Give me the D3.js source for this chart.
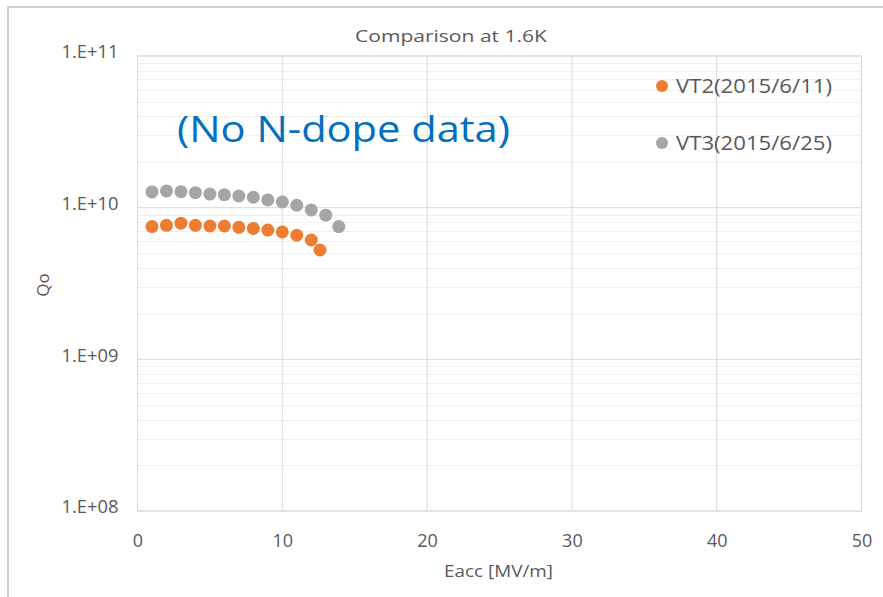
<!DOCTYPE html>
<html>
<head>
<meta charset="utf-8">
<script src="https://cdn.jsdelivr.net/npm/d3@7"></script>
<style>
  body { margin: 0; background: #fff; }
  text { font-family: "Open Sans", sans-serif; fill: #595959; }
</style>
</head>
<body>
<svg id="chart"></svg>
<script>
// Data
const eaccVT2 = [1, 2, 3, 4, 5, 6, 7, 8, 9, 10, 11, 12, 12.6];
const qoVT2 = [7.5e9, 7.65e9, 7.9e9, 7.65e9, 7.57e9, 7.57e9, 7.42e9, 7.3e9, 7.12e9, 6.92e9, 6.58e9, 6.12e9, 5.26e9];
const eaccVT3 = [1, 2, 3, 4, 5, 6, 7, 8, 9, 10, 11, 12, 13, 13.9];
const qoVT3 = [1.27e10, 1.29e10, 1.275e10, 1.256e10, 1.23e10, 1.218e10, 1.194e10, 1.171e10, 1.124e10, 1.09e10, 1.037e10, 9.66e9, 8.92e9, 7.5e9];
const seriesNames = ["VT2(2015/6/11)", "VT3(2015/6/25)"];
const seriesColors = ["#ED7D31", "#A5A5A5"];
const xTicks = [0, 10, 20, 30, 40, 50];
const yTicks = [1e8, 1e9, 1e10, 1e11];
const yTickLabels = ["1.E+08", "1.E+09", "1.E+10", "1.E+11"];

const width = 883, height = 597;
const margin = { top: 56, right: 21.5, bottom: 86, left: 137.5 };
const plotW = width - margin.left - margin.right;
const plotH = height - margin.top - margin.bottom;

const svg = d3.select("#chart").attr("width", width).attr("height", height);

// outer frame (top and left edges visible)
svg.append("path")
  .attr("d", `M8,${height} L8,7 L${width},7`)
  .attr("fill", "none")
  .attr("stroke", "#d0d0d0")
  .attr("stroke-width", 2);

const g = svg.append("g").attr("transform", `translate(${margin.left},${margin.top})`);

const x = d3.scaleLinear().domain([0, 50]).range([0, plotW]);
const y = d3.scaleLog().domain([1e8, 1e11]).range([plotH, 0]);

// minor log gridlines
const minor = [];
[1e8, 1e9, 1e10].forEach((base) => {
  for (let k = 2; k <= 9; k++) minor.push(base * k);
});
g.selectAll(".minor")
  .data(minor)
  .enter()
  .append("line")
  .attr("x1", 0)
  .attr("x2", plotW)
  .attr("y1", (d) => Math.round(y(d)) + 0.5)
  .attr("y2", (d) => Math.round(y(d)) + 0.5)
  .attr("stroke", "#f0f0f0");

// major gridlines
g.selectAll(".hgrid")
  .data(yTicks)
  .enter()
  .append("line")
  .attr("x1", 0)
  .attr("x2", plotW)
  .attr("y1", (d) => y(d))
  .attr("y2", (d) => y(d))
  .attr("stroke", "#d9d9d9");

g.selectAll(".vgrid")
  .data(xTicks)
  .enter()
  .append("line")
  .attr("x1", (d) => x(d))
  .attr("x2", (d) => x(d))
  .attr("y1", 0)
  .attr("y2", plotH)
  .attr("stroke", "#d9d9d9");

g.append("rect")
  .attr("width", plotW)
  .attr("height", plotH)
  .attr("fill", "none")
  .attr("stroke", "#d9d9d9");

// axes (labels only, Excel style)
const xAxis = g.append("g")
  .attr("transform", `translate(0,${plotH})`)
  .call(d3.axisBottom(x).tickValues(xTicks).tickSize(0).tickPadding(0));
xAxis.select(".domain").remove();
xAxis.selectAll("text")
  .attr("y", 36)
  .attr("dy", 0)
  .style("font-size", "18px")
  .style("fill", "#595959")
  .style("font-family", "Open Sans");

const yAxis = g.append("g")
  .call(d3.axisLeft(y).tickValues(yTicks).tickFormat((d, i) => yTickLabels[i]).tickSize(0));
yAxis.select(".domain").remove();
yAxis.selectAll("text")
  .attr("x", -19)
  .attr("dy", "0.1em")
  .attr("textLength", 57)
  .attr("lengthAdjust", "spacingAndGlyphs")
  .style("font-size", "18px")
  .style("fill", "#595959")
  .style("font-family", "Open Sans");

// series
const series = [
  { name: seriesNames[0], xs: eaccVT2, ys: qoVT2, color: seriesColors[0] },
  { name: seriesNames[1], xs: eaccVT3, ys: qoVT3, color: seriesColors[1] },
];

series.forEach((s) => {
  g.selectAll(null)
    .data(s.xs.map((v, i) => [v, s.ys[i]]))
    .enter()
    .append("circle")
    .attr("cx", (d) => x(d[0]))
    .attr("cy", (d) => y(d[1]))
    .attr("r", 6.5)
    .attr("fill", s.color);
});

// title
svg.append("text")
  .attr("x", 451)
  .attr("y", 42)
  .attr("text-anchor", "middle")
  .attr("textLength", 192)
  .attr("lengthAdjust", "spacingAndGlyphs")
  .style("font-size", "17px")
  .text("Comparison at 1.6K");

// axis titles
svg.append("text")
  .attr("x", 498.5)
  .attr("y", 577)
  .attr("text-anchor", "middle")
  .attr("textLength", 109)
  .attr("lengthAdjust", "spacingAndGlyphs")
  .style("font-size", "17px")
  .text("Eacc [MV/m]");

svg.append("text")
  .attr("transform", "translate(49,285) rotate(-90)")
  .attr("text-anchor", "middle")
  .style("font-size", "17px")
  .text("Qo");

// annotation
svg.append("text")
  .attr("x", 177)
  .attr("y", 142)
  .attr("textLength", 333)
  .attr("lengthAdjust", "spacingAndGlyphs")
  .style("font-size", "37px")
  .style("fill", "#0070C0")
  .text("(No N-dope data)");

// legend
const legend = svg.append("g");
series.forEach((s, i) => {
  const ly = 86 + i * 57;
  legend.append("circle")
    .attr("cx", 662)
    .attr("cy", ly)
    .attr("r", 6)
    .attr("fill", s.color);
  legend.append("text")
    .attr("x", 676)
    .attr("y", ly + 7)
    .attr("textLength", 156)
    .attr("lengthAdjust", "spacingAndGlyphs")
    .style("font-size", "20px")
    .text(s.name);
});
</script>
</body>
</html>
